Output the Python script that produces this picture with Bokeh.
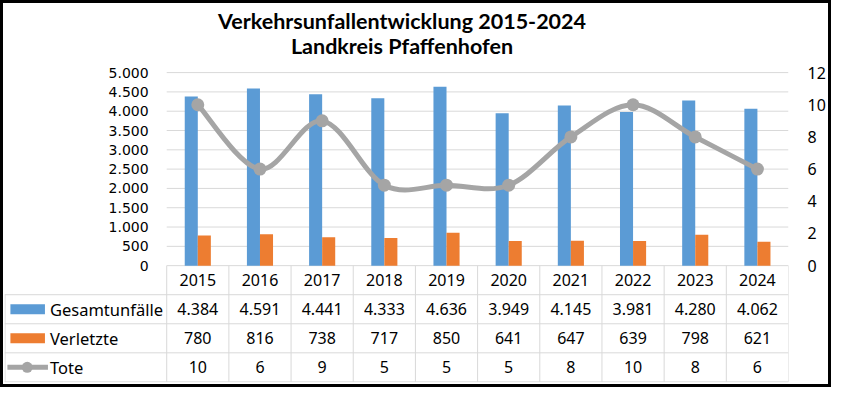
import numpy as np
from bokeh.plotting import figure
from bokeh.models import Range1d, LinearAxis, FixedTicker
from bokeh.layouts import column
from bokeh.embed import file_html
from bokeh.resources import INLINE
from bokeh.core.properties import value

# ---------------- data ----------------
years = ["2015", "2016", "2017", "2018", "2019", "2020", "2021", "2022", "2023", "2024"]
gesamtunfaelle = [4384, 4591, 4441, 4333, 4636, 3949, 4145, 3981, 4280, 4062]
verletzte = [780, 816, 738, 717, 850, 641, 647, 639, 798, 621]
tote = [10, 6, 9, 5, 5, 5, 8, 10, 8, 6]
series_names = ["Gesamtunfälle", "Verletzte", "Tote"]
left_ticks = [0, 500, 1000, 1500, 2000, 2500, 3000, 3500, 4000, 4500, 5000]
left_tick_labels = ["0", "500", "1.000", "1.500", "2.000", "2.500", "3.000",
                    "3.500", "4.000", "4.500", "5.000"]
right_ticks = [0, 2, 4, 6, 8, 10, 12]
right_tick_labels = ["0", "2", "4", "6", "8", "10", "12"]
title_lines = ["Verkehrsunfallentwicklung 2015-2024", "Landkreis Pfaffenhofen"]

BLUE = "#5B9BD5"
ORANGE = "#ED7D31"
GREY = "#A5A5A5"
GRID = "#D9D9D9"
TFONT = "Noto Sans"


def de(n):
    return f"{n:,}".replace(",", ".")


n = len(years)
xc = np.arange(n) + 0.5

# ---------------- geometry (pixel -> data helpers) ----------------
BORDER = 3
W, H = 819, 375            # drawing area inside the black border
FL, FR = 1, 784            # frame left / right (px)
FB = 373                   # frame bottom (px from top)
ZERO = 258                 # px position of value 0
U = 5000 / 190             # left-axis units per px
CW = (FR - 163) / n        # category width px
XL = -(163 - FL) / CW      # data x of frame left
R12 = 12 / 5000            # right / left scale


def X(px):
    return (px - FL) / CW + XL


def Y(py):
    return (ZERO - py) * U


RH = 28.6 * U              # table row height in data units

p = figure(width=W + 2 * BORDER, height=H + 2 * BORDER,
           x_range=Range1d(XL, n), y_range=Range1d(Y(FB), Y(0)),
           output_backend="svg", toolbar_location=None,
           x_axis_location=None, y_axis_location=None,
           min_border_left=FL, min_border_right=W - FR, min_border_top=0,
           min_border_bottom=H - FB)
p.outline_line_color = None
p.grid.visible = False
p.background_fill_color = "white"
p.border_fill_color = "white"

# right axis (Tote)
p.extra_y_ranges = {"tote": Range1d(Y(FB) * R12, Y(0) * R12)}
ra = LinearAxis(y_range_name="tote", ticker=FixedTicker(ticks=right_ticks))
ra.major_label_overrides = {t: l for t, l in zip(right_ticks, right_tick_labels)}
ra.axis_line_color = None
ra.major_tick_line_color = None
ra.major_tick_out = 0
ra.major_tick_in = 0
ra.minor_tick_line_color = None
ra.major_label_standoff = 19
ra.major_label_text_font = TFONT
ra.major_label_text_font_size = "16px"
ra.major_label_text_color = "#000000"
p.add_layout(ra, "right")

# gridlines (left-axis ticks) over the category area
p.segment(x0=[0] * len(left_ticks), y0=left_ticks, x1=[n] * len(left_ticks), y1=left_ticks,
          line_color=GRID, line_width=1)
# left tick labels
p.text(x=[X(145)] * len(left_ticks), y=left_ticks, text=left_tick_labels,
       text_font=value("DejaVu Sans"), text_font_size="14px", text_color="#000000",
       text_align="right", text_baseline="middle")

# bars
bw = 0.21
p.vbar(x=xc - bw / 2, top=gesamtunfaelle, width=bw, bottom=0,
       fill_color=BLUE, line_color=None)
p.vbar(x=xc + bw / 2, top=verletzte, width=bw, bottom=0,
       fill_color=ORANGE, line_color=None)

# smoothed line (Catmull-Rom -> Bezier)
ty = np.array(tote, dtype=float)
px = np.concatenate([[xc[0]], xc, [xc[-1]]])
py = np.concatenate([[ty[0]], ty, [ty[-1]]])
x0 = px[1:-2]; y0 = py[1:-2]
x1 = px[2:-1]; y1 = py[2:-1]
cx0 = x0 + (px[2:-1] - px[0:-3]) / 6
cy0 = y0 + (py[2:-1] - py[0:-3]) / 6
cx1 = x1 - (px[3:] - px[1:-2]) / 6
cy1 = y1 - (py[3:] - py[1:-2]) / 6
p.bezier(x0=x0, y0=y0, x1=x1, y1=y1, cx0=cx0, cy0=cy0, cx1=cx1, cy1=cy1,
         line_color=GREY, line_width=5, y_range_name="tote")
p.scatter(x=xc, y=tote, size=13, fill_color=GREY, line_color=None,
          y_range_name="tote")

# title
p.text(x=[X(398)] * 2, y=[Y(17), Y(41.5)], text=title_lines,
       text_font=value("Lato"), text_font_size="21.5px", text_font_style="bold",
       text_color="#000000", text_align="center", text_baseline="alphabetic")

# ---------------- table ----------------
rows_y = [-k * RH for k in range(5)]
# vertical lines
vx = list(np.arange(n + 1, dtype=float))
p.segment(x0=vx, y0=[rows_y[0]] * (n + 1), x1=vx, y1=[rows_y[4]] * (n + 1),
          line_color=GRID, line_width=1)
p.segment(x0=[X(FL + 0.5)], y0=[rows_y[1]], x1=[X(FL + 0.5)], y1=[rows_y[4]],
          line_color=GRID, line_width=1)
# horizontal lines
p.segment(x0=[X(FL)] * 4, y0=rows_y[1:], x1=[n] * 4, y1=rows_y[1:],
          line_color=GRID, line_width=1)

cy = [-(k + 0.5) * RH for k in range(4)]
cell = dict(text_font=value(TFONT), text_font_size="16px", text_color="#000000",
            text_align="center", text_baseline="middle")
p.text(x=xc, y=[cy[0]] * n, text=years, **cell)
p.text(x=xc, y=[cy[1]] * n, text=[de(v) for v in gesamtunfaelle], **cell)
p.text(x=xc, y=[cy[2]] * n, text=[de(v) for v in verletzte], **cell)
p.text(x=xc, y=[cy[3]] * n, text=[de(v) for v in tote], **cell)

# legend keys
kx0, kx1 = X(6.9), X(41.4)
p.rect(x=[(kx0 + kx1) / 2] * 2, y=[cy[1], cy[2]], width=kx1 - kx0, height=10,
       height_units="screen", fill_color=[BLUE, ORANGE], line_color=None)
p.segment(x0=[X(3.9)], y0=[cy[3]], x1=[X(44.4)], y1=[cy[3]], line_color=GREY, line_width=5)
p.scatter(x=[X(23.7)], y=[cy[3]], size=11, fill_color=GREY, line_color=None)
p.text(x=[X(46.4)] * 3, y=cy[1:], text=series_names,
       text_font=value(TFONT), text_font_size="16.5px", text_color="#000000",
       text_align="left", text_baseline="middle")

layout = column(p, styles={"border": f"{BORDER}px solid black"})
open("out.html", "w").write(file_html(layout, INLINE))
